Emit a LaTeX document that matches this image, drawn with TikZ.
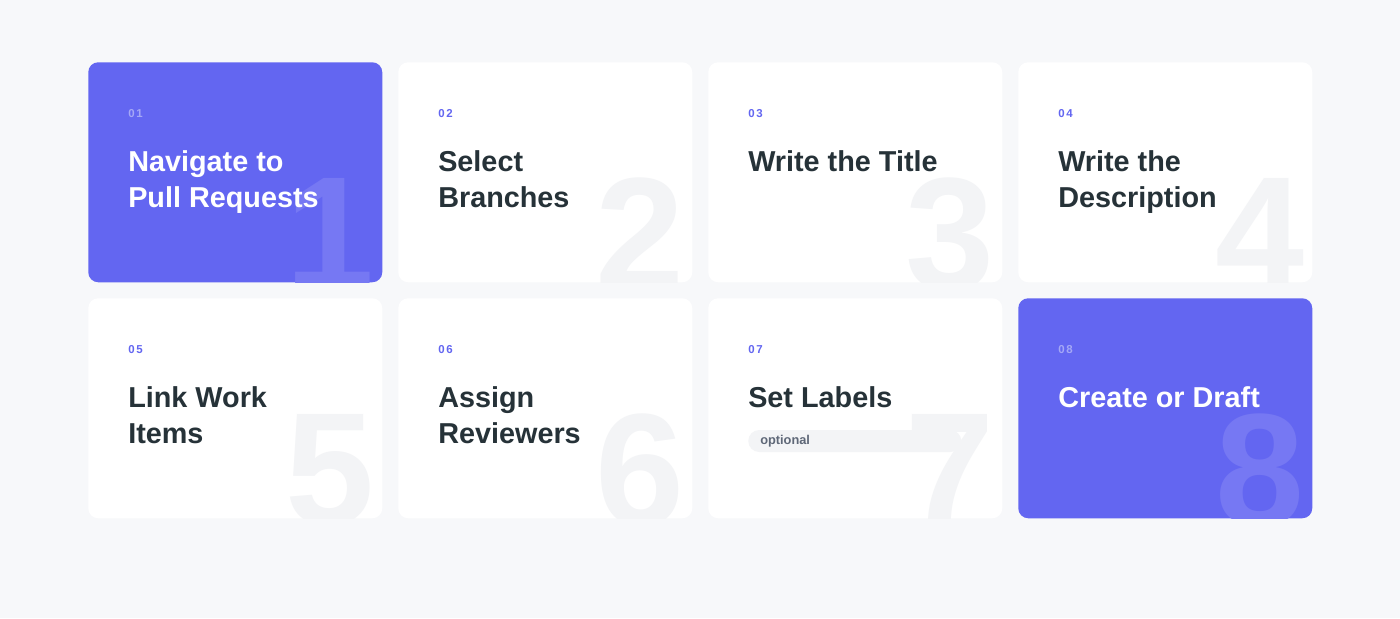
\documentclass[tikz,border=0pt]{standalone}
\usepackage{fontspec}
\setmainfont{Liberation Sans}
\newfontfamily\stepnofont[LetterSpace=15]{Liberation Sans}

\definecolor{pagebg}{HTML}{F7F8FA}
\definecolor{indigo}{HTML}{6366F1}
\definecolor{ink}{HTML}{263238}
\definecolor{ghost}{HTML}{F3F4F6}
\definecolor{soft}{HTML}{A5A8F6}
\definecolor{pilltext}{HTML}{5F6878}
\colorlet{ghostin}{indigo!88!white}

\begin{document}
\begin{tikzpicture}
[x=0.75pt,y=-0.75pt,%
  card/.style={rounded corners=7.5pt,minimum width=220.5pt,minimum height=165pt,inner sep=0pt,anchor=north west},%
  stepno/.style={anchor=base west,inner sep=0pt,font=\stepnofont\bfseries\fontsize{8.6}{10}\selectfont},%
  steptitle/.style={anchor=north west,inner sep=0pt,align=left,font=\bfseries\fontsize{21.6}{27}\selectfont},%
  bignum/.style={anchor=north east,inner sep=0pt,font=\bfseries\fontsize{120}{120}\selectfont},%
  pill/.style={anchor=west,fill=ghost,rounded corners=8.25pt,minimum height=16.5pt,inner xsep=9pt,inner ysep=0pt,text width=141.75pt,align=left,text=pilltext,font=\bfseries\fontsize{9.6}{11}\selectfont}]
\fill[pagebg] (0,0) rectangle (1400,618);
\foreach \i/\x/\y/\bg/\fg/\nc/\gc/\t in {%
  1/88/62/indigo/white/soft/ghostin/{Navigate to\\Pull Requests},%
  2/398/62/white/ink/indigo/ghost/{Select\\Branches},%
  3/708/62/white/ink/indigo/ghost/{Write the Title},%
  4/1018/62/white/ink/indigo/ghost/{Write the\\Description},%
  5/88/298/white/ink/indigo/ghost/{Link Work\\Items},%
  6/398/298/white/ink/indigo/ghost/{Assign\\Reviewers},%
  7/708/298/white/ink/indigo/ghost/{Set Labels},%
  8/1018/298/indigo/white/soft/ghostin/{Create or Draft}}
{
  \node[card,fill=\bg] (card\i) at (\x,\y) {};
  \begin{scope}
    \clip[rounded corners=7.5pt] (card\i.north west) rectangle (card\i.south east);
    \node[bignum,text=\gc] (big\i) at (\x+287,\y+116) {\i};
  \end{scope}
  \node[stepno,text=\nc] (no\i) at (\x+40,\y+55) {0\i};
  \node[steptitle,text=\fg] (title\i) at (\x+40,\y+88.5) {\t};
}
\node[pill] (pill7) at (748,441) {optional};
\end{tikzpicture}
\end{document}
